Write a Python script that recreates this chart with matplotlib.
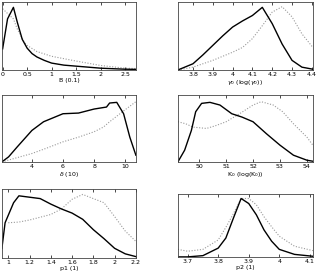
import numpy as np
import matplotlib
matplotlib.use("Agg")
import matplotlib.pyplot as plt

# =============================================================================
# Data (normalised densities)
# =============================================================================

b_x = [0.0, 0.1, 0.22, 0.3, 0.4, 0.5, 0.6, 0.7, 0.85, 1.0, 1.25, 1.5, 2.0, 2.5, 2.72]
b_solid = [0.31, 0.75, 0.92, 0.7, 0.45, 0.32, 0.24, 0.19, 0.14, 0.10, 0.07, 0.055, 0.025, 0.01, 0.008]
b_dot_x = [0.0, 0.1, 0.22, 0.3, 0.44, 0.5, 0.7, 1.0, 1.5, 2.0, 2.5, 2.72]
b_dot = [0.9, 0.83, 0.75, 0.6, 0.41, 0.36, 0.27, 0.2, 0.13, 0.065, 0.025, 0.02]

g_x = [3.725, 3.8, 3.85, 3.9, 3.95, 4.0, 4.05, 4.1, 4.15, 4.2, 4.25, 4.3, 4.35, 4.405]
g_solid = [0.0, 0.09, 0.22, 0.36, 0.5, 0.63, 0.72, 0.8, 0.92, 0.68, 0.38, 0.14, 0.04, 0.01]
g_dot = [0.0, 0.04, 0.09, 0.14, 0.2, 0.26, 0.33, 0.46, 0.65, 0.85, 0.93, 0.78, 0.53, 0.33]

d_x = [2.07, 2.5, 3.04, 4.0, 4.75, 6.0, 7.0, 8.0, 8.8, 9.0, 9.46, 9.9, 10.3, 10.69]
d_solid = [0.0, 0.075, 0.22, 0.47, 0.6, 0.72, 0.73, 0.79, 0.82, 0.88, 0.89, 0.72, 0.37, 0.1]
d_dot_x = [2.07, 3.0, 4.0, 5.0, 6.0, 7.0, 8.0, 8.6, 9.0, 9.5, 10.0, 10.69]
d_dot = [0.0, 0.06, 0.125, 0.21, 0.3, 0.37, 0.45, 0.52, 0.6, 0.69, 0.78, 0.9]

k_x = [49.21, 49.46, 49.71, 49.87, 50.09, 50.4, 50.77, 51.21, 51.59, 52.0, 52.5, 53.0, 53.5, 54.0, 54.22]
k_solid = [0.0, 0.175, 0.47, 0.75, 0.875, 0.89, 0.85, 0.72, 0.67, 0.6, 0.42, 0.25, 0.1, 0.025, 0.01]
k_dot_x = [49.21, 49.5, 49.77, 50.27, 50.6, 51.0, 51.5, 52.0, 52.3, 52.75, 53.1, 53.5, 54.0, 54.22]
k_dot = [0.6, 0.57, 0.52, 0.5, 0.54, 0.6, 0.72, 0.85, 0.9, 0.85, 0.75, 0.57, 0.37, 0.25]

p1_x = [0.94, 0.97, 1.05, 1.1, 1.2, 1.3, 1.4, 1.5, 1.6, 1.7, 1.8, 1.9, 2.0, 2.1, 2.2]
p1_solid = [0.14, 0.51, 0.8, 0.9, 0.88, 0.86, 0.78, 0.71, 0.65, 0.56, 0.41, 0.28, 0.14, 0.06, 0.02]
p1_dot_x = [1.0, 1.1, 1.2, 1.3, 1.4, 1.5, 1.6, 1.7, 1.8, 1.9, 2.0, 2.1, 2.2]
p1_dot = [0.51, 0.52, 0.55, 0.59, 0.63, 0.71, 0.85, 0.92, 0.86, 0.8, 0.6, 0.39, 0.24]

p2_x = [3.668, 3.7, 3.75, 3.8, 3.825, 3.85, 3.875, 3.9, 3.925, 3.95, 3.975, 4.0, 4.05, 4.11]
p2_solid = [0.0, 0.0, 0.02, 0.14, 0.3, 0.62, 0.93, 0.85, 0.67, 0.43, 0.25, 0.12, 0.04, 0.01]
p2_dot = [0.12, 0.09, 0.12, 0.27, 0.47, 0.69, 0.93, 0.93, 0.83, 0.64, 0.48, 0.33, 0.17, 0.1]

# =============================================================================
# Panels: (position, solid, dotted, xlim, ticks, ticklabels, xlabel)
# =============================================================================

panels = [
    ([0.006, 0.744, 0.424, 0.249], (b_x, b_solid), (b_dot_x, b_dot), (-0.015, 2.72),
     [0, 0.5, 1, 1.5, 2, 2.5], ["0", "0.5", "1", "1.5", "2", "2.5"], "B (0.1)"),
    ([0.563, 0.744, 0.427, 0.249], (g_x, g_solid), (g_x, g_dot), (3.724, 4.405),
     [3.8, 3.9, 4.0, 4.1, 4.2, 4.3, 4.4], ["3.8", "3.9", "4", "4.1", "4.2", "4.3", "4.4"],
     r"$\gamma_0$ (log($\gamma_0$))"),
    ([0.006, 0.407, 0.424, 0.245], (d_x, d_solid), (d_dot_x, d_dot), (2.07, 10.69),
     [4, 6, 8, 10], ["4", "6", "8", "10"], r"$\delta$ (10)"),
    ([0.563, 0.407, 0.427, 0.245], (k_x, k_solid), (k_dot_x, k_dot), (49.21, 54.22),
     [50, 51, 52, 53, 54], ["50", "51", "52", "53", "54"], r"K$_0$ (log(K$_0$))"),
    ([0.006, 0.055, 0.424, 0.253], (p1_x, p1_solid), (p1_dot_x, p1_dot), (0.94, 2.2),
     [1, 1.2, 1.4, 1.6, 1.8, 2, 2.2], ["1", "1.2", "1.4", "1.6", "1.8", "2", "2.2"], "p1 (1)"),
    ([0.563, 0.059, 0.427, 0.230], (p2_x, p2_solid), (p2_x, p2_dot), (3.668, 4.11),
     [3.7, 3.8, 3.9, 4.0, 4.1], ["3.7", "3.8", "3.9", "4", "4.1"], "p2 (1)"),
]

fig = plt.figure(figsize=(3.16, 2.73), dpi=100)

for pos, solid, dotted, xlim, ticks, labels, xlabel in panels:
    ax = fig.add_axes(pos)
    ax.plot(dotted[0], dotted[1], linestyle=(0, (1, 1.5)), color="#9a9a9a", lw=0.8)
    ax.plot(solid[0], solid[1], color="black", lw=1.0)
    ax.set_xlim(*xlim)
    ax.set_ylim(0, 1)
    ax.set_yticks([])
    ax.set_xticks(ticks)
    ax.set_xticklabels(labels)
    ax.tick_params(axis="x", direction="in", top=True, length=2, width=0.5,
                   labelsize=4.5, pad=1.5)
    ax.set_xlabel(xlabel, fontsize=4.5, labelpad=1)
    for sp in ax.spines.values():
        sp.set_linewidth(0.6)
        sp.set_color("#444444")

fig.savefig("out.png", dpi=100)
